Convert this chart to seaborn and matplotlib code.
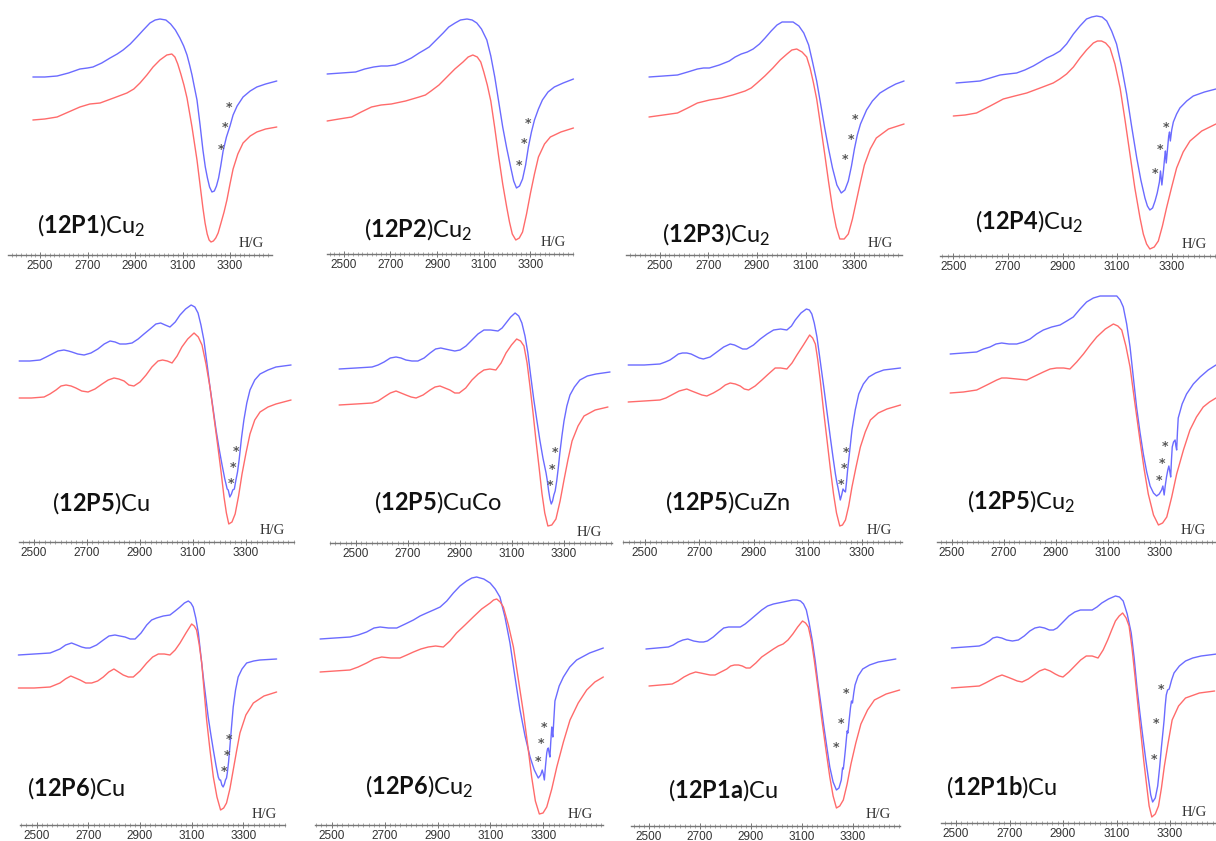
import matplotlib
matplotlib.use("Agg")
import matplotlib.pyplot as plt
import matplotlib.transforms as mtransforms
from matplotlib.ticker import FixedLocator, MultipleLocator
import seaborn as sns

# ---------------- data (field / G, intensity / arb. units) ----------------
TICKS = [2500, 2700, 2900, 3100, 3300]
LABEL_CODES = ["12P1", "12P2", "12P3", "12P4", "12P5", "12P5", "12P5", "12P5",
               "12P6", "12P6", "12P1a", "12P1b"]
LABEL_METALS = ["Cu2", "Cu2", "Cu2", "Cu2", "Cu", "CuCo", "CuZn", "Cu2",
                "Cu", "Cu2", "Cu", "Cu"]

P1_BLUE = [(2470,178),(2520,178),(2572,179),(2620,182),(2668,186),(2700,187),(2723,188),(2760,192),(2795,197),(2825,201),(2850,205),(2880,211),(2908,218),(2935,225),(2963,232),(2985,235),(3005,236),(3030,235),(3050,231),(3070,225),(3089,217),(3105,209),(3119,200),(3130,190),(3140,180),(3150,168),(3161,155),(3174,130),(3186,105),(3196,88),(3205,77),(3214,68),(3224,63),(3234,64),(3243,69),(3252,77),(3261,89),(3271,104),(3285,118),(3300,129),(3313,140),(3330,149),(3355,158),(3385,164),(3413,168),(3450,171),(3497,174)]
P1_RED = [(2470,135),(2520,136),(2572,138),(2620,143),(2668,148),(2710,151),(2753,152),(2810,157),(2866,162),(2895,166),(2921,172),(2950,180),(2976,188),(3005,195),(3034,200),(3055,201),(3068,198),(3080,191),(3093,181),(3106,170),(3119,157),(3140,128),(3161,95),(3174,70),(3186,47),(3195,32),(3204,21),(3212,15),(3220,13),(3230,14),(3240,17),(3250,22),(3262,32),(3275,43),(3287,55),(3300,71),(3313,86),(3333,101),(3355,112),(3385,119),(3413,123),(3450,126),(3497,128)]
P1_STARS = [(3296,148),(3279,127),(3262,105)]

P2_BLUE = [(2429,180),(2490,181),(2551,182),(2590,185),(2628,187),(2660,188),(2687,188),(2720,189),(2755,192),(2790,196),(2823,201),(2845,204),(2866,207),(2896,214),(2926,221),(2950,227),(2977,231),(3000,234),(3028,235),(3050,234),(3070,231),(3090,225),(3113,214),(3130,198),(3147,177),(3164,152),(3181,127),(3198,106),(3215,87),(3228,73),(3240,66),(3253,68),(3266,75),(3279,89),(3291,107),(3304,122),(3317,134),(3334,145),(3351,154),(3375,162),(3402,167),(3440,171),(3484,175)]
P2_RED = [(2429,133),(2480,135),(2534,137),(2575,142),(2619,147),(2660,149),(2704,150),(2765,153),(2823,157),(2850,159),(2874,163),(2908,169),(2942,177),(2976,185),(3011,192),(3033,197),(3053,199),(3072,197),(3087,192),(3100,182),(3115,169),(3130,153),(3147,126),(3164,97),(3181,70),(3198,47),(3210,32),(3222,20),(3237,14),(3252,16),(3266,22),(3283,40),(3300,61),(3317,80),(3334,97),(3360,110),(3385,117),(3430,122),(3484,126)]
P2_STARS = [(3291,131),(3271,111),(3251,89)]

P3_BLUE = [(2456,178),(2515,179),(2573,180),(2615,183),(2655,186),(2680,187),(2704,187),(2745,190),(2786,194),(2810,198),(2835,201),(2860,203),(2884,206),(2910,211),(2933,217),(2958,224),(2982,230),(3003,233),(3023,233),(3048,233),(3072,229),(3092,222),(3112,210),(3128,193),(3145,174),(3162,150),(3178,127),(3194,106),(3210,87),(3228,70),(3246,62),(3261,65),(3275,74),(3288,89),(3300,106),(3312,120),(3325,131),(3350,145),(3374,154),(3405,162),(3439,167),(3470,171),(3504,174)]
P3_RED = [(2456,138),(2515,140),(2573,142),(2615,147),(2655,152),(2705,155),(2753,157),(2800,160),(2851,164),(2876,167),(2900,172),(2932,179),(2965,187),(2995,195),(3023,201),(3043,205),(3063,206),(3085,203),(3104,198),(3118,187),(3131,173),(3145,156),(3162,128),(3178,101),(3194,73),(3210,47),(3225,28),(3240,16),(3258,16),(3275,21),(3292,36),(3308,54),(3325,73),(3341,90),(3365,106),(3390,117),(3440,126),(3504,131)]
P3_STARS = [(3303,135),(3284,116),(3263,95)]

P4_BLUE = [(2510,173),(2555,174),(2598,175),(2635,178),(2671,181),(2700,182),(2732,183),(2762,186),(2793,190),(2818,194),(2842,198),(2866,201),(2891,205),(2915,212),(2940,222),(2964,230),(2988,237),(3007,239),(3025,240),(3045,239),(3062,235),(3080,225),(3098,212),(3116,190),(3135,162),(3153,130),(3172,98),(3187,76),(3202,58),(3211,50),(3220,46),(3230,48),(3239,55),(3247,63),(3255,74),(3259,85),(3264,71),(3270,86),(3274,98),(3277,105),(3280,93),(3285,108),(3289,120),(3292,124),(3295,115),(3300,126),(3306,134),(3318,142),(3330,148),(3355,155),(3379,160),(3420,164),(3462,167)]
P4_RED = [(2500,140),(2543,141),(2585,143),(2635,150),(2683,157),(2725,160),(2769,163),(2818,168),(2866,173),(2890,177),(2915,182),(2940,189),(2964,198),(2988,206),(3013,213),(3028,215),(3043,215),(3058,213),(3074,208),(3092,192),(3111,168),(3129,136),(3147,102),(3165,68),(3184,38),(3196,22),(3208,12),(3220,7),(3236,9),(3251,15),(3266,30),(3281,48),(3300,69),(3318,88),(3342,104),(3367,115),(3410,125),(3462,132)]
P4_STARS = [(3278,128),(3257,106),(3239,82)]

P5_BLUE = [(2444,181),(2484,181),(2523,182),(2546,185),(2568,188),(2590,191),(2613,192),(2630,191),(2643,190),(2665,188),(2689,187),(2715,189),(2741,193),(2765,198),(2787,201),(2806,200),(2824,198),(2847,198),(2870,199),(2893,203),(2915,208),(2938,213),(2960,218),(2978,219),(2995,217),(3013,215),(3033,220),(3051,227),(3072,233),(3093,237),(3107,235),(3119,229),(3130,217),(3141,202),(3152,180),(3164,155),(3176,133),(3187,112),(3198,94),(3209,78),(3220,63),(3229,53),(3233,52),(3239,45),(3245,48),(3250,52),(3256,53),(3262,62),(3268,70),(3274,82),(3283,104),(3292,122),(3303,139),(3315,152),(3333,162),(3353,168),(3383,172),(3413,175),(3470,177)]
P5_RED = [(2444,144),(2490,144),(2538,145),(2560,148),(2583,152),(2602,156),(2621,157),(2640,156),(2658,154),(2680,151),(2704,150),(2730,153),(2757,158),(2780,162),(2802,164),(2820,163),(2840,161),(2858,157),(2877,156),(2900,160),(2923,167),(2945,175),(2968,181),(2985,182),(3003,181),(3021,179),(3040,186),(3058,195),(3080,203),(3104,209),(3120,205),(3134,197),(3149,178),(3164,155),(3179,125),(3194,95),(3206,70),(3217,45),(3226,29),(3235,18),(3247,20),(3259,28),(3272,46),(3285,68),(3300,89),(3315,108),(3333,122),(3353,130),(3383,135),(3413,138),(3470,142)]
P5_STARS = [(3262,91),(3251,75),(3242,59)]

P6_BLUE = [(2435,174),(2500,175),(2562,176),(2585,178),(2608,181),(2632,185),(2654,186),(2673,185),(2692,183),(2715,182),(2738,182),(2762,185),(2785,190),(2806,194),(2826,195),(2843,194),(2861,193),(2880,192),(2900,193),(2923,197),(2946,203),(2969,209),(2992,213),(3018,213),(3046,212),(3062,215),(3077,220),(3095,226),(3112,230),(3126,227),(3138,220),(3150,207),(3161,190),(3172,167),(3184,143),(3196,122),(3207,103),(3219,85),(3231,70),(3236,62),(3241,52),(3246,44),(3251,39),(3256,42),(3261,48),(3266,52),(3272,62),(3278,75),(3284,90),(3292,107),(3300,122),(3311,137),(3323,148),(3340,156),(3361,163),(3390,167),(3423,169),(3477,171)]
P6_RED = [(2435,138),(2500,139),(2562,140),(2585,142),(2608,146),(2632,150),(2654,152),(2673,150),(2692,148),(2712,146),(2731,145),(2758,148),(2785,153),(2804,156),(2823,157),(2842,155),(2861,153),(2880,150),(2897,150),(2922,155),(2946,163),(2970,169),(2992,173),(3015,174),(3038,173),(3058,180),(3077,190),(3098,198),(3118,204),(3133,202),(3146,197),(3158,180),(3169,157),(3181,130),(3192,103),(3204,76),(3215,50),(3226,30),(3238,17),(3253,18),(3269,24),(3285,42),(3300,63),(3315,83),(3331,102),(3354,117),(3377,127),(3420,133),(3469,136)]
P6_STARS = [(3264,90),(3255,73),(3246,57)]

P7_BLUE = [(2438,177),(2497,177),(2555,178),(2575,180),(2592,182),(2608,185),(2623,188),(2638,189),(2654,189),(2670,188),(2685,186),(2700,184),(2715,183),(2740,185),(2765,190),(2790,195),(2814,198),(2830,197),(2845,195),(2860,193),(2875,193),(2900,197),(2925,203),(2950,208),(2974,212),(3000,213),(3023,212),(3040,216),(3054,222),(3075,229),(3095,233),(3106,232),(3115,228),(3124,219),(3134,205),(3146,181),(3159,155),(3171,130),(3183,105),(3193,85),(3202,68),(3207,60),(3211,55),(3216,48),(3220,42),(3225,47),(3230,53),(3235,51),(3239,50),(3243,60),(3247,72),(3255,92),(3263,112),(3275,132),(3288,148),(3305,158),(3325,165),(3350,169),(3380,172),(3442,174)]
P7_RED = [(2438,140),(2497,141),(2555,142),(2577,144),(2598,147),(2626,151),(2654,153),(2672,151),(2691,149),(2710,147),(2728,146),(2752,149),(2777,153),(2796,157),(2814,159),(2833,158),(2851,156),(2866,153),(2882,152),(2906,156),(2931,162),(2955,168),(2980,174),(3000,174),(3023,173),(3042,179),(3060,187),(3084,197),(3107,207),(3118,204),(3128,198),(3137,182),(3146,162),(3158,132),(3171,102),(3183,74),(3195,48),(3206,29),(3218,16),(3228,17),(3239,22),(3251,36),(3263,55),(3278,75),(3294,95),(3312,110),(3331,122),(3360,129),(3392,133),(3442,137)]
P7_STARS = [(3241,90),(3232,74),(3222,58)]

P8_BLUE = [(2494,188),(2545,189),(2596,190),(2622,193),(2647,195),(2670,198),(2692,199),(2720,198),(2750,198),(2776,200),(2801,203),(2826,208),(2852,212),(2884,215),(2916,217),(2942,221),(2967,225),(2993,233),(3018,240),(3044,244),(3070,246),(3100,246),(3134,246),(3147,242),(3159,235),(3172,218),(3185,195),(3197,166),(3210,135),(3223,110),(3236,88),(3249,70),(3262,56),(3275,49),(3287,46),(3297,48),(3306,52),(3311,56),(3316,47),(3320,56),(3325,65),(3330,72),(3334,76),(3338,70),(3341,65),(3344,82),(3347,95),(3352,100),(3358,102),(3361,96),(3364,92),(3367,110),(3370,124),(3385,138),(3402,148),(3428,158),(3454,165),(3485,172),(3515,177)]
P8_RED = [(2494,149),(2545,150),(2596,152),(2635,157),(2673,162),(2692,164),(2711,164),(2750,163),(2788,162),(2820,166),(2852,170),(2878,173),(2903,174),(2930,174),(2954,173),(2980,180),(3006,188),(3032,197),(3057,205),(3090,213),(3121,218),(3138,216),(3153,212),(3169,196),(3185,175),(3204,138),(3223,102),(3239,73),(3255,48),(3275,27),(3294,17),(3310,19),(3326,25),(3345,45),(3364,68),(3390,92),(3415,112),(3440,125),(3466,135),(3490,140),(3515,144)]
P8_STARS = [(3319,96),(3306,79),(3296,62)]

P9_BLUE = [(2429,170),(2490,171),(2552,172),(2571,174),(2590,176),(2612,180),(2635,182),(2655,180),(2674,178),(2690,177),(2706,177),(2732,180),(2758,185),(2780,189),(2803,190),(2822,189),(2842,188),(2862,186),(2881,186),(2904,192),(2926,200),(2945,205),(2964,207),(2990,209),(3016,210),(3036,214),(3055,218),(3072,222),(3087,224),(3097,222),(3106,218),(3116,207),(3126,192),(3135,171),(3145,148),(3155,127),(3164,108),(3174,91),(3184,75),(3194,60),(3203,48),(3208,45),(3212,45),(3217,40),(3222,38),(3227,41),(3231,45),(3235,47),(3238,52),(3243,63),(3248,78),(3254,97),(3261,118),(3270,135),(3280,148),(3295,156),(3313,162),(3340,164),(3364,165),(3429,166)]
P9_RED = [(2429,137),(2490,137),(2552,138),(2571,140),(2590,142),(2611,146),(2632,149),(2650,147),(2668,145),(2690,142),(2713,142),(2736,144),(2758,148),(2779,153),(2799,156),(2817,153),(2835,150),(2855,148),(2874,148),(2900,154),(2926,162),(2949,168),(2971,171),(2994,171),(3016,170),(3036,175),(3055,182),(3078,192),(3100,201),(3110,199),(3119,195),(3129,181),(3139,162),(3148,135),(3158,105),(3171,75),(3184,48),(3198,28),(3212,15),(3224,17),(3235,22),(3248,36),(3261,55),(3274,74),(3287,92),(3310,110),(3339,122),(3380,129),(3429,133)]
P9_STARS = [(3243,86),(3235,70),(3225,54)]

P10_BLUE = [(2456,186),(2512,187),(2569,188),(2600,190),(2632,193),(2660,197),(2683,198),(2715,197),(2746,197),(2778,201),(2809,205),(2834,209),(2859,212),(2885,215),(2910,218),(2935,224),(2960,232),(2985,239),(3010,244),(3030,247),(3048,248),(3075,246),(3099,242),(3118,236),(3136,228),(3155,208),(3174,182),(3193,148),(3212,115),(3231,89),(3250,68),(3266,55),(3281,47),(3290,50),(3296,55),(3300,51),(3304,45),(3308,58),(3313,72),(3316,76),(3319,77),(3322,72),(3325,68),(3328,82),(3332,98),(3334,92),(3336,88),(3340,106),(3344,124),(3360,139),(3376,148),(3400,158),(3426,165),(3475,172),(3527,177)]
P10_RED = [(2456,153),(2512,154),(2569,155),(2600,158),(2632,162),(2660,166),(2689,168),(2723,167),(2758,167),(2784,170),(2809,173),(2837,176),(2865,178),(2893,179),(2922,178),(2947,184),(2972,192),(3004,200),(3035,208),(3067,216),(3099,222),(3112,225),(3124,226),(3137,223),(3149,218),(3168,200),(3187,178),(3206,145),(3225,112),(3241,80),(3256,48),(3270,24),(3285,11),(3299,12),(3313,18),(3332,36),(3351,58),(3376,83),(3401,105),(3432,122),(3464,135),(3495,143),(3527,148)]
P10_STARS = [(3303,98),(3290,81),(3279,63)]

P11_BLUE = [(2488,177),(2532,178),(2576,179),(2595,181),(2614,184),(2633,186),(2652,187),(2675,185),(2698,184),(2714,184),(2729,185),(2752,189),(2774,194),(2793,198),(2812,199),(2835,199),(2858,199),(2877,202),(2896,206),(2919,211),(2942,216),(2965,220),(2988,222),(3007,223),(3026,224),(3045,225),(3064,226),(3080,226),(3094,225),(3106,222),(3117,216),(3128,203),(3140,186),(3152,165),(3163,142),(3175,120),(3186,99),(3198,78),(3209,59),(3222,44),(3235,36),(3245,38),(3254,46),(3259,58),(3262,57),(3266,66),(3270,76),(3274,87),(3277,95),(3280,93),(3285,106),(3290,118),(3294,125),(3298,123),(3303,133),(3308,141),(3320,150),(3338,157),(3365,161),(3399,164),(3468,167)]
P11_RED = [(2500,140),(2545,141),(2591,142),(2614,145),(2637,149),(2660,152),(2683,154),(2702,153),(2721,152),(2740,151),(2759,151),(2782,154),(2805,157),(2820,160),(2835,161),(2851,161),(2866,160),(2881,158),(2896,158),(2919,163),(2942,169),(2965,173),(2988,177),(3007,180),(3026,182),(3045,186),(3064,192),(3083,199),(3102,205),(3114,203),(3125,199),(3137,185),(3148,166),(3163,137),(3178,106),(3194,76),(3209,49),(3222,30),(3235,18),(3248,20),(3262,26),(3277,42),(3292,62),(3311,83),(3331,102),(3357,116),(3384,126),(3430,132),(3483,136)]
P11_STARS = [(3274,133),(3253,103),(3235,78)]

P12_BLUE = [(2483,175),(2535,176),(2587,177),(2606,179),(2624,182),(2638,185),(2653,186),(2671,185),(2689,183),(2711,182),(2733,183),(2755,187),(2776,192),(2795,195),(2813,196),(2831,195),(2849,193),(2864,193),(2878,195),(2900,201),(2922,207),(2944,211),(2965,213),(2987,213),(3009,213),(3027,216),(3045,220),(3070,224),(3096,227),(3111,226),(3125,222),(3140,209),(3155,190),(3166,165),(3176,137),(3187,111),(3198,87),(3209,64),(3220,43),(3228,28),(3235,21),(3245,25),(3254,37),(3261,55),(3268,76),(3274,92),(3278,103),(3282,117),(3286,128),(3291,133),(3297,134),(3306,143),(3315,150),(3335,157),(3358,162),(3385,165),(3416,167),(3475,169)]
P12_RED = [(2483,135),(2535,136),(2587,137),(2610,140),(2631,143),(2652,146),(2672,148),(2692,146),(2711,144),(2729,142),(2747,141),(2770,144),(2791,148),(2812,152),(2832,154),(2852,152),(2871,149),(2886,147),(2900,146),(2922,151),(2944,157),(2966,163),(2987,167),(3009,167),(3031,165),(3050,173),(3067,183),(3082,193),(3096,202),(3110,207),(3123,210),(3136,205),(3147,197),(3158,175),(3169,147),(3180,118),(3191,90),(3202,62),(3213,37),(3222,17),(3232,6),(3245,9),(3257,17),(3268,35),(3279,57),(3293,80),(3308,103),(3332,117),(3358,125),(3410,130),(3467,132)]
P12_STARS = [(3268,133),(3249,100),(3239,63)]

BLUE_CURVES = [P1_BLUE, P2_BLUE, P3_BLUE, P4_BLUE, P5_BLUE, P6_BLUE,
               P7_BLUE, P8_BLUE, P9_BLUE, P10_BLUE, P11_BLUE, P12_BLUE]
RED_CURVES = [P1_RED, P2_RED, P3_RED, P4_RED, P5_RED, P6_RED,
              P7_RED, P8_RED, P9_RED, P10_RED, P11_RED, P12_RED]
STARS = [P1_STARS, P2_STARS, P3_STARS, P4_STARS, P5_STARS, P6_STARS,
         P7_STARS, P8_STARS, P9_STARS, P10_STARS, P11_STARS, P12_STARS]

# ---------------- layout (pixels of the 1216x841 canvas) ----------------
W, H = 1216, 841
AX_H = 250
# (x of 2500 tick, x of 3300 tick, axis left, axis right, axis baseline y)
LAYOUT = [
    (40, 230, 8, 272, 255), (343.7, 530.5, 327, 573, 254),
    (659.7, 854.4, 626, 902, 255), (953.3, 1171.7, 940, 1216, 256),
    (34, 246, 19, 294, 542), (356, 564, 330, 612, 543),
    (645, 862, 623, 902, 542), (951.7, 1160, 937, 1216, 542),
    (36.7, 243.3, 20, 285, 825), (331.7, 543.3, 315, 603, 825),
    (649, 853, 631, 900, 826), (956, 1170, 941, 1216, 823),
]
LABEL_XY = [(37, 226), (364, 230), (662, 235), (975, 222),
            (52, 503), (374, 502), (665, 502), (967, 502),
            (27, 788), (365, 787), (668, 790), (946, 787)]

BLUE = "#6b6bff"
RED = "#ff6b6b"

sns.set_theme(style="white")
plt.rcParams["font.family"] = ["Lato", "DejaVu Sans"]
plt.rcParams["mathtext.fontset"] = "custom"
plt.rcParams["mathtext.rm"] = "Lato"
plt.rcParams["mathtext.bf"] = "Lato:bold"
plt.rcParams["mathtext.it"] = "Lato:italic"

fig = plt.figure(figsize=(W / 100, H / 100), dpi=100)
fig.patch.set_facecolor("white")

for i in range(12):
    p2500, p3300, left, right, base = LAYOUT[i]
    s = 800.0 / (p3300 - p2500)
    xmin = 2500 - (p2500 - left) * s
    xmax = 2500 + (right - p2500) * s
    ax = fig.add_axes([left / W, 1 - base / H, (right - left) / W, AX_H / H])
    ax.patch.set_alpha(0)

    for curve, col in ((BLUE_CURVES[i], BLUE), (RED_CURVES[i], RED)):
        xs = [p[0] for p in curve]
        ys = [p[1] for p in curve]
        sns.lineplot(x=xs, y=ys, ax=ax, color=col, linewidth=1.0, sort=False,
                     estimator=None, legend=False, clip_on=False)

    for fx, fy in STARS[i]:
        ax.text(fx, fy, "*", ha="center", va="center", fontsize=9,
                color="#555555", family="DejaVu Sans", fontweight="bold")

    ax.set_xlim(xmin, xmax)
    ax.set_ylim(0, AX_H)
    ax.set_yticks([])
    ax.set_ylabel("")
    ax.xaxis.set_major_locator(FixedLocator(TICKS))
    ax.xaxis.set_minor_locator(MultipleLocator(20))
    ax.set_xticklabels([str(t) for t in TICKS], family="Liberation Sans",
                       fontsize=8.5, color="#333333")
    ax.tick_params(axis="x", which="major", direction="inout", length=4,
                   width=0.7, color="#777777", pad=1.5, bottom=True)
    ax.tick_params(axis="x", which="minor", direction="inout", length=3,
                   width=0.5, color="#888888", bottom=True)
    for sp in ("left", "right", "top"):
        ax.spines[sp].set_visible(False)
    ax.spines["bottom"].set_color("#777777")
    ax.spines["bottom"].set_linewidth(1.0)

    trans = mtransforms.blended_transform_factory(ax.transAxes, ax.transData)
    ax.text(0.92, 11, "H/G", transform=trans, ha="center", va="center",
            fontsize=10.5, family="Liberation Serif", color="#333333")

    metal = LABEL_METALS[i]
    metal_txt = "Cu$_2$" if metal == "Cu2" else metal
    lx, ly = LABEL_XY[i]
    fig.text(lx / W, 1 - ly / H,
             "($\\mathbf{" + LABEL_CODES[i] + "}$)" + metal_txt,
             ha="left", va="center", fontsize=17, color="#111111")

fig.savefig("out.png", dpi=100, facecolor="white")
